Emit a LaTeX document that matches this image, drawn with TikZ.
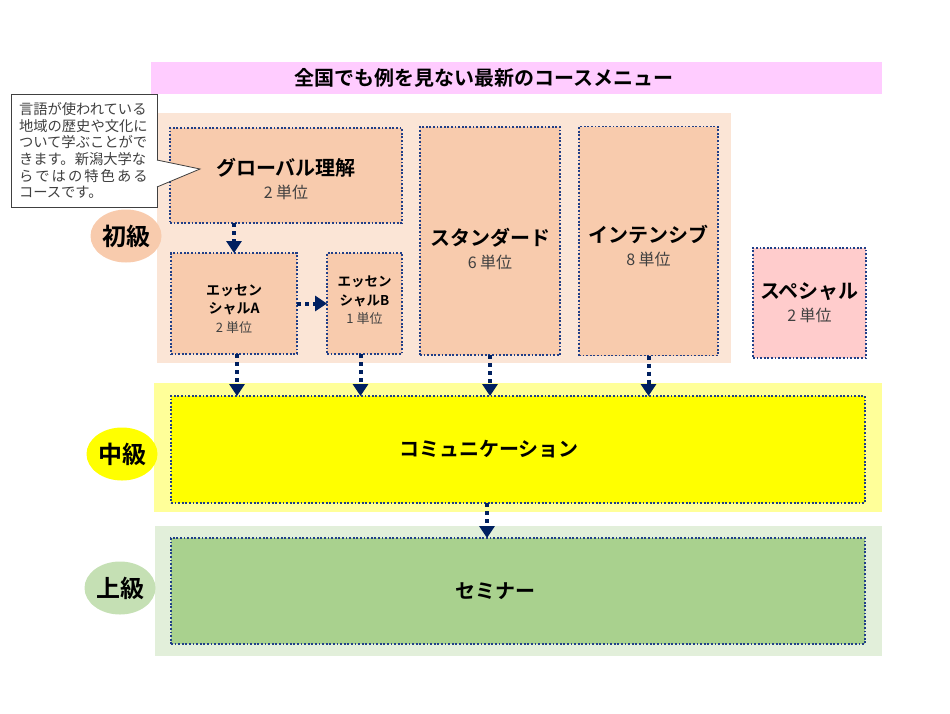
\documentclass[tikz,border=0pt]{standalone}
\usepackage{fontspec}
\setmainfont{Noto Sans CJK JP}[BoldFont={Noto Sans CJK JP Bold}]
\usetikzlibrary{positioning, arrows.meta, shapes.geometric}
\definecolor{navyline}{HTML}{203F88}
\definecolor{navyarrow}{HTML}{002060}
\definecolor{titlepink}{HTML}{FFCCFF}
\definecolor{peachband}{HTML}{FBE5D6}
\definecolor{peachbox}{HTML}{F8CBAD}
\definecolor{specialpink}{HTML}{FFCCCC}
\definecolor{yellowband}{HTML}{FFFF99}
\definecolor{yellowbox}{HTML}{FFFF00}
\definecolor{greenband}{HTML}{E2EFDA}
\definecolor{greenbox}{HTML}{A9D18E}
\definecolor{greencircle}{HTML}{C5E0B4}
\definecolor{unitgray}{HTML}{404040}
\newcommand{\coursetext}[2]{{\bfseries\fontsize{20}{23}\selectfont #1}\\{\color{unitgray}\fontsize{16}{23}\selectfont #2}}
\newcommand{\esstext}[3]{{\bfseries\fontsize{#3}{18.5}\selectfont エッセン}\\{\bfseries\fontsize{#3}{18.5}\selectfont シャル#1}\\{\color{unitgray}\fontsize{13}{18.5}\selectfont #2}}

\begin{document}
\begin{tikzpicture}[
    x=1pt, y=-1pt,
    every node/.style={inner sep=0pt, outer sep=0pt},
    course/.style={draw=navyline, line width=1.8pt, dash pattern=on 1.8pt off 1.8pt, fill=peachbox},
    boxtext/.style={align=center, font=\fontsize{16}{23}\selectfont},
    esstext/.style={align=center, font=\fontsize{13}{18.5}\selectfont},
    bigtext/.style={font=\bfseries\fontsize{20}{23}\selectfont},
    level/.style={ellipse, minimum width=71pt, minimum height=53pt, font=\bfseries\fontsize{24}{26}\selectfont},
    flow/.style={draw=navyarrow, line width=4pt, dash pattern=on 4pt off 4pt, -{Triangle[width=15pt,length=12pt]}},
    note/.style={draw=unitgray, line width=0.8pt, fill=white, text=unitgray, text width=130pt, minimum width=146pt, minimum height=113pt, inner sep=8pt, align=left, font=\fontsize{14.3}{16.7}\selectfont},
    pointer/.style={draw=unitgray, line width=0.8pt, line join=miter}
]
\useasboundingbox (0,0) rectangle (950,713);

% bands
\fill[titlepink] (151,62) rectangle (882,94);
\fill[peachband] (157,113) rectangle (731,363);
\fill[yellowband] (154,383) rectangle (882,512);
\fill[greenband] (155,526) rectangle (882,656);

\node[bigtext] (title) at (484,78) {全国でも例を見ない最新のコースメニュー};

% levels
\node[level, fill=peachbox] (shokyu) at (126,236) {初級};
\node[level, fill=yellowbox] (chukyu) at (122,454) {中級};
\node[level, fill=greencircle] (jokyu) at (120,588) {上級};

% courses
\node[course, minimum width=232pt, minimum height=95pt,
      label={[boxtext, yshift=-4pt]center:\coursetext{グローバル理解}{2 単位}}] (global) at (286,175.5) {};
\node[course, minimum width=126pt, minimum height=101pt,
      label={[esstext, yshift=-5pt]center:\esstext{A}{2 単位}{14}}] (essA) at (234,303.5) {};
\node[course, minimum width=75pt, minimum height=101pt, right=30pt of essA,
      label={[esstext, yshift=3pt]center:\esstext{B}{1 単位}{13.5}}] (essB) {};
\node[course, minimum width=140pt, minimum height=228pt,
      label={[boxtext, yshift=-8pt]center:\coursetext{スタンダード}{6 単位}}] (std) at (490,241) {};
\node[course, minimum width=139pt, minimum height=229pt, right=19pt of std,
      label={[boxtext, yshift=-5pt]center:\coursetext{インテンシブ}{8 単位}}] (int) {};
\node[course, minimum width=113pt, minimum height=110pt, fill=specialpink,
      label={[boxtext]center:\coursetext{スペシャル}{2 単位}}] (spec) at (809.5,303) {};
\node[course, minimum width=694pt, minimum height=107pt, fill=yellowbox,
      label={[bigtext, xshift=-29pt]center:コミュニケーション}] (comm) at (518,449.5) {};
\node[course, minimum width=694pt, minimum height=106pt, fill=greenbox,
      label={[bigtext, xshift=-23pt]center:セミナー}] (sem) at (518,591) {};

% arrows
\draw[flow] (essA.north |- global.south) -- (essA.north);
\draw[flow] (essA.east) -- (essB.west);
\draw[flow] ([xshift=3pt]essA.south) -- ([xshift=3pt]essA.south |- comm.north);
\draw[flow] ([xshift=-4pt]essB.south) -- ([xshift=-4pt]essB.south |- comm.north);
\draw[flow] (std.south) -- (std.south |- comm.north);
\draw[flow] (int.south) -- (int.south |- comm.north);
\draw[flow] ([xshift=-3pt]std.south |- comm.south) -- ([xshift=-3pt]std.south |- sem.north);

% note with its pointer
\node[note] (note) at (84,150.5) {言語が使われている\\地域の歴史や文化に\\ついて学ぶことがで\\きます。新潟大学な\\\makebox[9em][s]{ら\hfil で\hfil は\hfil の\hfil 特\hfil 色\hfil あ\hfil る}\\コースです。};
\coordinate (tip) at (200,169);
\fill[white] ([xshift=-1pt]note.east |- 0,160) -- (tip) -- ([xshift=-1pt]note.east |- 0,187) -- cycle;
\draw[pointer] (note.east |- 0,160) -- (tip) -- (note.east |- 0,187);
\end{tikzpicture}
\end{document}
